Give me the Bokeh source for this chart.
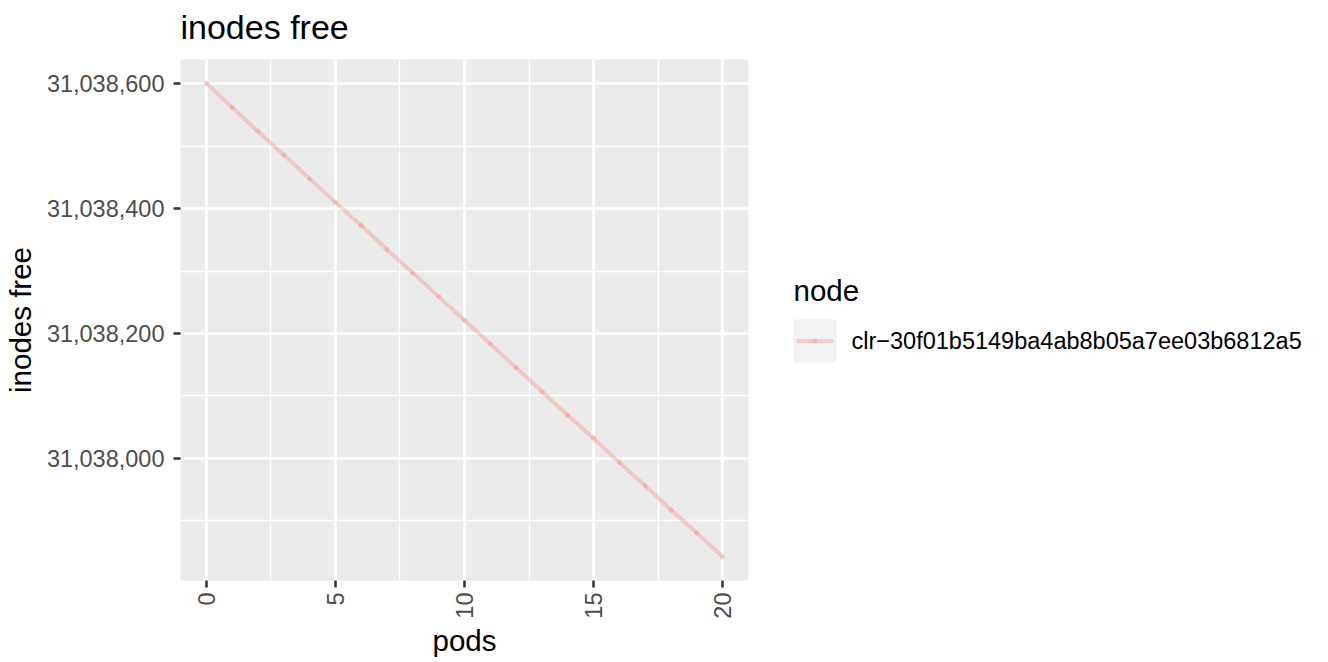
import math
from bokeh.plotting import figure
from bokeh.layouts import row
from bokeh.models import Range1d, FixedTicker, NumeralTickFormatter, Title
from bokeh.core.properties import value
from bokeh.embed import file_html
from bokeh.resources import INLINE

# ---- data ----
pods = list(range(21))
inodes_free = [31038601, 31038562, 31038524, 31038486, 31038448, 31038410,
               31038373, 31038334, 31038297, 31038259, 31038221, 31038183,
               31038145, 31038107, 31038069, 31038032, 31037993, 31037956,
               31037917, 31037880, 31037842]
chart_title = "inodes free"
node_name = "clr\u221230f01b5149ba4ab8b05a7ee03b6812a5"
legend_title = "node"
x_major = [0, 5, 10, 15, 20]
x_minor = [2.5, 7.5, 12.5, 17.5]
y_major = [31038000, 31038200, 31038400, 31038600]
y_minor = [31037900, 31038100, 31038300, 31038500]

FONT = "Liberation Sans"
SERIES = "#F8766D"

# ggplot-like 5% expansion
xmin, xmax = min(pods), max(pods)
ymin, ymax = min(inodes_free), max(inodes_free)
xpad = (xmax - xmin) * 0.05
ypad = (ymax - ymin) * 0.05

O = 1          # observed page offset of the canvas
BL, BT, BR, BB = 180, 59, 30, 80
FW, FH = 568, 521
W, H = BL + FW + BR, BT + FH + BB
TOTAL_W = 1315

# ---- main plot ----
p = figure(width=W, height=H,
           min_border_left=BL, min_border_top=BT,
           min_border_right=BR, min_border_bottom=BB,
           x_range=Range1d(xmin - xpad, xmax + xpad),
           y_range=Range1d(ymin - ypad, ymax + ypad),
           output_backend="svg", toolbar_location=None,
           title=chart_title)

p.background_fill_color = "#EBEBEB"
p.border_fill_color = "white"
p.outline_line_color = None

p.title.text_font = FONT
p.title.text_font_size = "34px"
p.title.text_font_style = "normal"
p.title.text_color = "black"
p.title.align = "left"
p.title.offset = 0
p.title.standoff = 10
# small spacer between the title and the panel
p.add_layout(Title(text=" ", text_font_size="1px", standoff=6), "above")

p.xaxis.ticker = FixedTicker(ticks=x_major, minor_ticks=x_minor)
p.yaxis.ticker = FixedTicker(ticks=y_major, minor_ticks=y_minor)
p.yaxis.formatter = NumeralTickFormatter(format="0,0")
p.xaxis.major_label_orientation = math.pi / 2
p.xaxis.axis_label = "pods"
p.yaxis.axis_label = "inodes free"
for ax in (p.xaxis, p.yaxis):
    ax.axis_line_color = None
    ax.major_tick_in = 0
    ax.major_tick_out = 7
    ax.major_tick_line_color = "#333333"
    ax.major_tick_line_width = 2.5
    ax.minor_tick_line_color = None
    ax.major_label_text_font = FONT
    ax.major_label_text_font_size = "23.5px"
    ax.major_label_text_color = "#4D4D4D"
    ax.axis_label_text_font = FONT
    ax.axis_label_text_font_size = "29.5px"
    ax.axis_label_text_font_style = "normal"
    ax.axis_label_text_color = "black"
p.xaxis.major_label_standoff = 5
p.xaxis.axis_label_standoff = 2
p.yaxis.major_label_standoff = 9
p.yaxis.axis_label_standoff = 7

for g in (p.xgrid, p.ygrid):
    g.grid_line_color = "white"
    g.grid_line_width = 2.7
    g.minor_grid_line_color = "white"
    g.minor_grid_line_width = 1.35

p.line(pods, inodes_free, line_color=SERIES, line_alpha=0.3, line_width=4)
p.scatter(pods, inodes_free, size=5, fill_color=SERIES, fill_alpha=0.3,
          line_color=None)

# ---- legend panel: data units are page pixels (frame aligned with p) ----
LW = TOTAL_W - W
ox = O + W
lg = figure(width=LW, height=H, min_border=0,
            x_range=Range1d(ox, ox + LW),
            y_range=Range1d(O + H - BB, O + BT),
            output_backend="svg", toolbar_location=None)
lg.axis.visible = False
lg.grid.visible = False
lg.outline_line_color = None
lg.background_fill_color = "white"
lg.border_fill_color = "white"

lg.quad(left=[794], right=[837], top=[320], bottom=[363],
        fill_color="#F2F2F2", line_color=None)
lg.line([797, 834], [341.5, 341.5], line_color=SERIES,
        line_alpha=0.3, line_width=4)
lg.scatter([815.5], [341.5], size=5, fill_color=SERIES,
           fill_alpha=0.3, line_color=None)
lg.text([794], [291], text=[legend_title], text_font=value(FONT),
        text_font_size="29.5px", text_color="black",
        text_baseline="alphabetic", text_line_height=1.0)
lg.text([852], [341.5], text=[node_name], text_font=value(FONT),
        text_font_size="23.5px", text_color="black",
        text_baseline="alphabetic", text_line_height=1.0)

layout = row(p, lg)
open("out.html", "w").write(file_html(layout, INLINE))
